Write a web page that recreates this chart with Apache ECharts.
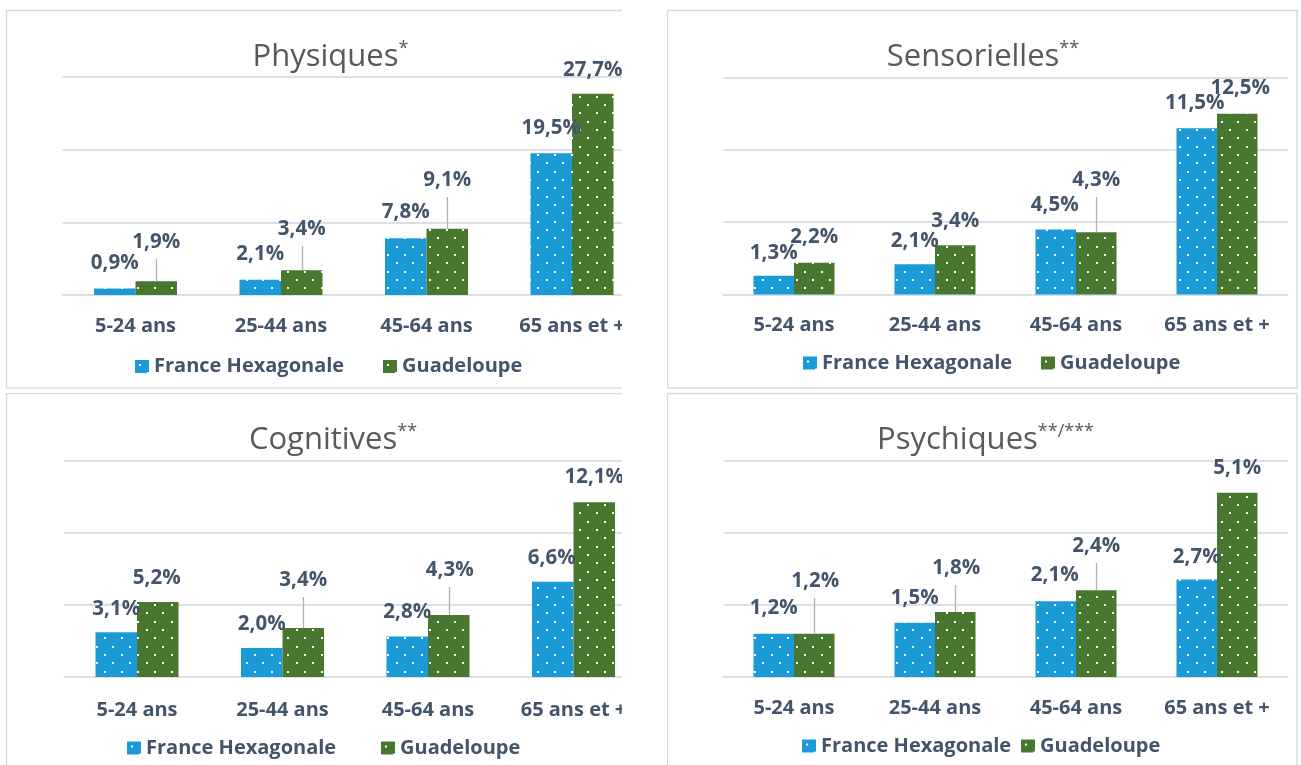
<!DOCTYPE html>
<html>
<head>
<meta charset="utf-8">
<script src="https://cdn.jsdelivr.net/npm/echarts@6/dist/echarts.min.js"></script>
<style>
html,body{margin:0;padding:0;background:#fff;}
#chart{width:1301px;height:765px;}
</style>
</head>
<body>
<div id="chart"></div>
<script>
// ---- DATA ----
const categories = ['5-24 ans', '25-44 ans', '45-64 ans', '65 ans et +'];
const seriesNames = ['France Hexagonale', 'Guadeloupe'];

const physiquesFH = [0.9, 2.1, 7.8, 19.5];
const physiquesGP = [1.9, 3.4, 9.1, 27.7];
const sensoriellesFH = [1.3, 2.1, 4.5, 11.5];
const sensoriellesGP = [2.2, 3.4, 4.3, 12.5];
const cognitivesFH = [3.1, 2.0, 2.8, 6.6];
const cognitivesGP = [5.2, 3.4, 4.3, 12.1];
const psychiquesFH = [1.2, 1.5, 2.1, 2.7];
const psychiquesGP = [1.2, 1.8, 2.4, 5.1];

const titleNames = ['Physiques', 'Sensorielles', 'Cognitives', 'Psychiques'];
const titleMarks = ['*', '**', '**', '**/***'];
const yMax = [30, 15, 15, 6];
const yStep = [10, 5, 5, 2];

// ---- LAYOUT / STYLE ----
const BLUE = '#1A9BD7', GREEN = '#4A772F', TXT = '#44546A', GRIDC = '#DCE0E6';
const FONT = 'Open Sans';

function makePattern(base) {
  const c = document.createElement('canvas');
  c.width = 50; c.height = 50;
  const g = c.getContext('2d');
  g.fillStyle = base; g.fillRect(0, 0, 50, 50);
  g.fillStyle = '#ffffff';
  const s = 50 / 3;
  for (let i = 0; i < 3; i++) for (let j = 0; j < 3; j++) {
    g.fillRect(Math.round(i * s + 4), Math.round(j * s + 4), 2, 2);
    g.fillRect(Math.round(i * s + 4 + s / 2), Math.round(j * s + 4 + s / 2), 2, 2);
  }
  return { image: c, repeat: 'repeat' };
}
const bluePat = makePattern(BLUE), greenPat = makePattern(GREEN);

const panels = [
  { fh: physiquesFH, gp: physiquesGP,
    grid: { left: 62.75, width: 582, top: 77, height: 218 }, barW: 41.5,
    title: [330.5, 57], legend: [[135, 366.5], [383, 366.5]], margin: 19,
    fhOff: [[0, -9.5], [0, -9.7], [0, -10.3], [0, -9.3]],
    gpOff: [[0, -23], [0, -25.3], [0, -32.9], [0, -7.7]], leader: [1, 1, 1, 0] },
  { fh: sensoriellesFH, gp: sensoriellesGP,
    grid: { left: 723.5, width: 564, top: 77.7, height: 216.8 }, barW: 40.5,
    title: [983, 57], legend: [[803, 363], [1041, 363]], margin: 18.5,
    fhOff: [[0, -6.7], [0, -7.2], [-1, -8.5], [-2, -9.3]],
    gpOff: [[0, -9.7], [0, -8.4], [0, -36.4], [3, -9.9]], leader: [0, 0, 1, 0] },
  { fh: cognitivesFH, gp: cognitivesGP,
    grid: { left: 64.25, width: 582, top: 460.3, height: 216.7 }, barW: 41.5,
    title: [333, 440], legend: [[127, 748], [381, 748]], margin: 21,
    fhOff: [[0, -7.2], [0, -8.1], [0, -8.5], [-1, -7.6]],
    gpOff: [[-1, -7.9], [0, -31.9], [1, -28.9], [0, -9.2]], leader: [0, 1, 1, 0] },
  { fh: psychiquesFH, gp: psychiquesGP,
    grid: { left: 723.5, width: 564, top: 460.3, height: 216.7 }, barW: 40.5,
    title: [985.5, 440], legend: [[802, 746], [1021, 746]], margin: 19,
    fhOff: [[0, -9.7], [0, -8.8], [-1, -10.2], [0, -6.5]],
    gpOff: [[1, -36.7], [1, -28], [0, -28.4], [0, -8.9]], leader: [1, 1, 1, 0] }
];

const fmt = v => v.toFixed(1).replace('.', ',') + '%';
const labelBase = {
  show: true, position: 'top', distance: 5,
  fontFamily: FONT, fontWeight: 'bold', fontSize: 20.5, lineHeight: 22, color: TXT,
  formatter: p => fmt(p.value)
};

const grid = [], xAxis = [], yAxis = [], series = [], legend = [], graphic = [];

panels.forEach((P, i) => {
  grid.push(Object.assign({ containLabel: false }, P.grid));
  xAxis.push({
    type: 'category', gridIndex: i, data: categories,
    axisTick: { show: false },
    axisLine: { lineStyle: { color: GRIDC, width: 2 } },
    axisLabel: { fontFamily: FONT, fontWeight: 'bold', fontSize: 20, lineHeight: 24,
      color: TXT, margin: P.margin, interval: 0 }
  });
  yAxis.push({
    type: 'value', gridIndex: i, min: 0, max: yMax[i], interval: yStep[i],
    axisLabel: { show: false }, axisLine: { show: false }, axisTick: { show: false },
    splitLine: { lineStyle: { color: GRIDC, width: 2 } }
  });
  series.push({
    type: 'bar', name: seriesNames[0], xAxisIndex: i, yAxisIndex: i,
    barWidth: P.barW, barGap: '0%',
    itemStyle: { color: bluePat },
    label: labelBase,
    data: P.fh.map((v, k) => ({ value: v, label: { offset: P.fhOff[k] } }))
  });
  series.push({
    type: 'bar', name: seriesNames[1], xAxisIndex: i, yAxisIndex: i,
    barWidth: P.barW, barGap: '0%',
    itemStyle: { color: greenPat },
    label: labelBase,
    data: P.gp.map((v, k) => ({ value: v, label: { offset: P.gpOff[k] } }))
  });
  // leader lines for moved Guadeloupe labels
  series.push({
    type: 'custom', xAxisIndex: i, yAxisIndex: i, silent: true, z: 3,
    data: P.gp.map((v, k) => [k, v]),
    encode: { x: 0, y: 1 },
    renderItem: (params, api) => {
      const k = params.dataIndex;
      if (!P.leader[k]) return null;
      const p = api.coord([api.value(0), api.value(1)]);
      const x = Math.round(p[0] + P.barW / 2) + 0.5;
      return { type: 'line',
        shape: { x1: x, y1: p[1], x2: x, y2: p[1] + P.gpOff[k][1] + 1 },
        style: { stroke: '#A9B2BF', lineWidth: 1.3 } };
    }
  });
  P.legend.forEach((L, j) => {
    legend.push({
      data: [seriesNames[j]], left: L[0], top: L[1] - 12, padding: 0,
      itemWidth: 14, itemHeight: 13, icon: 'rect', selectedMode: false,
      textStyle: { fontFamily: FONT, fontWeight: 'bold', fontSize: 20, lineHeight: 24, color: TXT }
    });
  });
  graphic.push({
    type: 'text', x: P.title[0], y: P.title[1], z: 50,
    style: {
      text: '{m|' + titleNames[i] + '}{s|' + titleMarks[i] + '}',
      align: 'center', verticalAlign: 'middle',
      rich: {
        m: { fontFamily: FONT, fontSize: 31, lineHeight: 38, fill: '#595959' },
        s: { fontFamily: FONT, fontSize: 18, lineHeight: 38, fill: '#595959', padding: [0, 0, 16, 0] }
      }
    }
  });
});

// panel frames
const frame = { stroke: '#D9D9D9', lineWidth: 1.5, fill: 'none' };
graphic.push({ type: 'rect', shape: { x: 6.5, y: 10.5, width: 650, height: 377.5 }, style: frame, z: 40 });
graphic.push({ type: 'rect', shape: { x: 667.5, y: 10.5, width: 629.5, height: 377.5 }, style: frame, z: 40 });
graphic.push({ type: 'rect', shape: { x: 6.5, y: 393.5, width: 650, height: 400 }, style: frame, z: 40 });
graphic.push({ type: 'rect', shape: { x: 667.5, y: 393.5, width: 629.5, height: 400 }, style: frame, z: 40 });
// crop of the left panels
graphic.push({ type: 'rect', shape: { x: 622, y: 0, width: 45, height: 765 }, style: { fill: '#ffffff' }, z: 45 });
graphic.push({ type: 'rect', shape: { x: 0, y: 388.8, width: 667, height: 4 }, style: { fill: '#ffffff' }, z: 45 });

const chart = echarts.init(document.getElementById('chart'), null, { renderer: 'canvas' });
chart.setOption({
  animation: false,
  backgroundColor: '#ffffff',
  grid, xAxis, yAxis, series, legend, graphic
});
</script>
</body>
</html>
